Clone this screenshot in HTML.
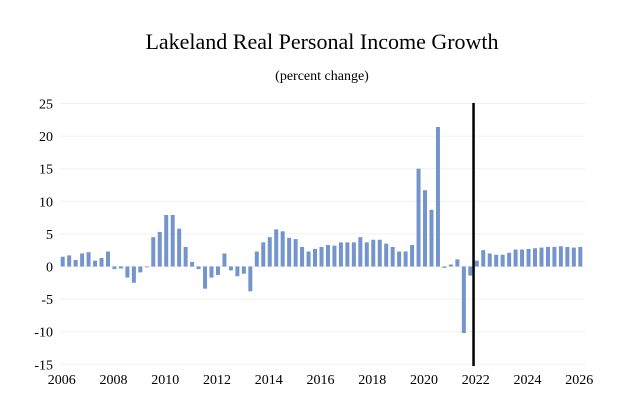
<!DOCTYPE html>
<html><head><meta charset="utf-8"><style>
body{margin:0;background:#fff;}
svg text{font-family:"Liberation Serif",serif;fill:#000;}
</style></head><body>
<svg width="627" height="415" xmlns="http://www.w3.org/2000/svg">
<text x="322" y="49" font-size="22" text-anchor="middle">Lakeland Real Personal Income Growth</text>
<text x="322" y="80" font-size="14" text-anchor="middle">(percent change)</text>
<g id="grid"></g><g id="bars"></g><g id="axes"></g>
</svg>
<script>
const yTicks=[25,20,15,10,5,0,-5,-10,-15];
const xLabels=["2006","2008","2010","2012","2014","2016","2018","2020","2022","2024","2026"];
const startYear=2006;
const values=[1.5,1.7,1.0,2.0, 2.2,0.9,1.3,2.3, -0.4,-0.3,-1.7,-2.5, -0.9,-0.1,4.5,5.3,
7.9,7.9,5.8,3.0, 0.7,-0.4,-3.4,-1.7, -1.3,2.0,-0.6,-1.5, -1.1,-3.8,2.3,3.7,
4.5,5.7,5.4,4.4, 4.2,3.0,2.3,2.7, 3.0,3.3,3.2,3.7, 3.7,3.7,4.5,3.7,
4.1,4.1,3.5,3.0, 2.3,2.3,3.3,15.0, 11.7,8.7,21.4,-0.2, 0.3,1.1,-10.2,-1.4,
0.9,2.5,2.0,1.8, 1.8,2.1,2.6,2.6, 2.7,2.8,2.9,3.0, 3.0,3.1,3.0,2.9, 3.0];
const forecastStart=63.5;
const NS="http://www.w3.org/2000/svg";
const y=v=>266.5-v*6.52;
const x=i=>62.7+i*6.47;
const g=document.getElementById('grid'),b=document.getElementById('bars'),a=document.getElementById('axes');
function mk(tag,attrs,parent){const e=document.createElementNS(NS,tag);for(const k in attrs)e.setAttribute(k,attrs[k]);parent.appendChild(e);return e;}
yTicks.forEach(t=>{
 const l=mk('line',{x1:60,x2:585,y1:y(t),y2:y(t),stroke:'#f0f0f0','stroke-width':1},g);
 
 
 const tx=mk('text',{x:53,y:y(t)+5,'font-size':14,'text-anchor':'end'},a);
 tx.textContent=t;
 
 
});
xLabels.forEach(s=>{
 const i=(parseInt(s)-startYear)*4;
 const tx=mk('text',{x:x(i)-1,y:384,'font-size':14,'text-anchor':'middle'},a);
 tx.textContent=s;
 
 
});
values.forEach((v,i)=>{
 const r=mk('rect',{x:x(i)-2,y:Math.min(y(v),y(0)),width:4,height:Math.max(Math.abs(y(v)-y(0)),0.8),fill:'#7394cc'},b);
 
 
});
const fl=mk('line',{x1:x(forecastStart),x2:x(forecastStart),y1:103,y2:366,stroke:'#000','stroke-width':2.5},a);


</script>
</body></html>
